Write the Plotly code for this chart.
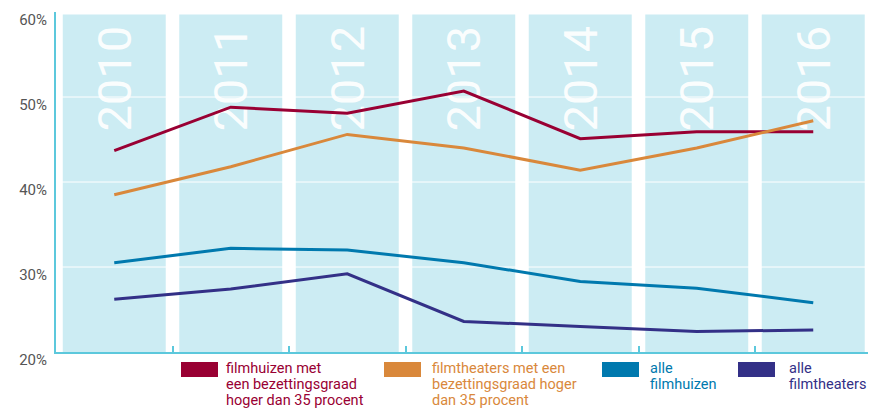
import plotly.graph_objects as go

years = ["2010", "2011", "2012", "2013", "2014", "2015", "2016"]
filmhuizen_35 = [43.7, 48.8, 48.1, 50.7, 45.1, 45.9, 45.9]
filmtheaters_35 = [38.5, 41.8, 45.6, 44.0, 41.4, 44.0, 47.2]
alle_filmhuizen = [30.5, 32.2, 32.0, 30.5, 28.3, 27.5, 25.8]
alle_filmtheaters = [26.2, 27.4, 29.2, 23.6, 23.0, 22.4, 22.6]
grid_values = [30, 40, 50]

series = [
    ("filmhuizen met<br>een bezettingsgraad<br>hoger dan 35 procent", filmhuizen_35, "#990033"),
    ("filmtheaters met een<br>bezettingsgraad hoger<br>dan 35 procent", filmtheaters_35, "#d9883b"),
    ("alle<br>filmhuizen", alle_filmhuizen, "#0079ae"),
    ("alle<br>filmtheaters", alle_filmtheaters, "#333087"),
]

W, H = 872, 410
L, R, T, B = 56, 4, 12, 58
PW = W - L - R
PH = H - T - B
Y0, Y1 = 20, 60
X0, X1 = -0.5, 6.47


def px2paper_x(px):
    return (px - L) / PW


def px2paper_y(py):
    return (H - B - py) / PH


xs = list(range(len(years)))
fig = go.Figure()

# background bands (one per year)
band_top = 59.7
fig.add_trace(go.Bar(x=xs, y=[band_top - Y0] * len(xs), base=Y0, width=0.884,
                     marker=dict(color="#ccecf3", line_width=0), hoverinfo="skip",
                     showlegend=False))
# year labels inside each band (transparent bar used as text holder)
lab_center, lab_half = 52.15, 8.0
fig.add_trace(go.Bar(x=xs, y=[2 * lab_half] * len(xs), base=lab_center - lab_half, width=0.884,
                     marker=dict(color="rgba(0,0,0,0)", line_width=0), hoverinfo="skip",
                     text=years, textposition="inside", insidetextanchor="middle",
                     textangle=-90, constraintext="none",
                     textfont=dict(family="Roboto", size=47, color="rgba(255,255,255,0.93)"),
                     showlegend=False))

# white gridlines over the bands
for gv in grid_values:
    fig.add_trace(go.Scatter(x=[X0, X1], y=[gv, gv], mode="lines",
                             line=dict(color="white", width=1), hoverinfo="skip",
                             showlegend=False))

for name, vals, color in series:
    fig.add_trace(go.Scatter(x=xs, y=vals, mode="lines", name=name.replace("<br>", " "),
                             line=dict(color=color, width=3), showlegend=False))

# manual legend
leg_swatch_x = [181, 384, 602, 738]
leg_text_x = [224, 430, 648, 787]
for k, (name, vals, color) in enumerate(series):
    x0 = leg_swatch_x[k]
    fig.add_shape(type="rect", xref="paper", yref="paper",
                  x0=px2paper_x(x0), x1=px2paper_x(x0 + 37),
                  y0=px2paper_y(377), y1=px2paper_y(362),
                  fillcolor=color, line_width=0)
    for j, line in enumerate(name.split("<br>")):
        fig.add_annotation(xref="paper", yref="paper", x=px2paper_x(leg_text_x[k]),
                           y=px2paper_y(368 + 16 * j), xanchor="left", yanchor="middle",
                           text=line, showarrow=False,
                           font=dict(family="Roboto", size=14.5, color=color))

axis_col = "#5cc8dc"
fig.update_xaxes(range=[X0, X1], showgrid=False, zeroline=False, showline=True,
                 linecolor=axis_col, linewidth=2, ticks="inside", ticklen=6, tickcolor=axis_col,
                 tickwidth=1.5, tickvals=[0.5, 1.5, 2.5, 3.5, 4.5, 5.5, 6.47],
                 showticklabels=False)
fig.update_yaxes(range=[Y0, Y1], dtick=10, tick0=20, showgrid=False,
                 zeroline=False, showline=True, linecolor=axis_col, linewidth=2, ticks="",
                 ticksuffix="%", ticklabelshift=8, ticklabelstandoff=4,
                 tickfont=dict(family="Roboto", size=15, color="#555555"))
fig.update_layout(width=W, height=H, margin=dict(l=L, r=R, t=T, b=B),
                  plot_bgcolor="white", paper_bgcolor="white", showlegend=False,
                  barmode="overlay")
fig.write_html("out.html", config={"displayModeBar": False},
               post_script="document.body.style.margin='0';")
